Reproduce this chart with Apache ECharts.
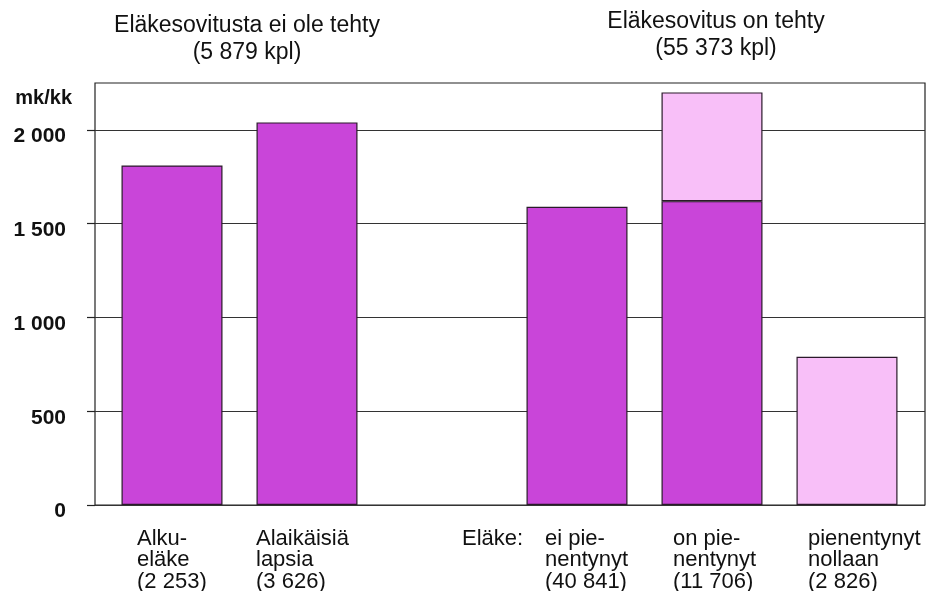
<!DOCTYPE html>
<html>
<head>
<meta charset="utf-8">
<script src="https://cdn.jsdelivr.net/npm/echarts@6/dist/echarts.min.js"></script>
<style>
html,body{margin:0;padding:0;background:#fff;}
#c{width:929px;height:591px;}
</style>
</head>
<body>
<div id="c"></div>
<script>
// ---- data ----
var categories = ['Alku-\neläke\n(2 253)', 'Alaikäisiä\nlapsia\n(3 626)', '', 'ei pie-\nnentynyt\n(40 841)', 'on pie-\nnentynyt\n(11 706)', 'pienentynyt\nnollaan\n(2 826)'];
var groupPrefix = ['', '', '', 'Eläke:', '', ''];
var darkValues = [1810, 2040, '-', 1590, 1620, '-'];   // mk/kk, pension not reduced part
var lightValues = ['-', '-', '-', '-', 580, 790];      // mk/kk, reduced part
var yTicks = [0, 500, 1000, 1500, 2000];
var yMax = 2250;
var yUnit = 'mk/kk';
var titles = [
  'Eläkesovitusta ei ole tehty\n(5 879 kpl)',
  'Eläkesovitus on tehty\n(55 373 kpl)'
];

// ---- chart ----
var FONT = "'Liberation Sans', Arial, sans-serif";
function fmt(v) { return String(v).replace(/\B(?=(\d{3})+(?!\d))/g, ' '); }
var spacer = [77, 45, 0, 83, 69, 69];
var rich = { t: { width: 147, align: 'left', fontSize: 22, lineHeight: 21.5, color: '#111', fontFamily: FONT } };
spacer.forEach(function (w, i) {
  rich['s' + i] = { width: w, align: 'left', fontSize: 22, lineHeight: 21.5, color: '#111', fontFamily: FONT };
});

var chart = echarts.init(document.getElementById('c'), null, { renderer: 'canvas' });
chart.setOption({
  backgroundColor: '#ffffff',
  animation: false,
  title: [
    { text: titles[0], left: 247, top: 12, padding: 0, textAlign: 'center',
      textStyle: { fontFamily: FONT, fontSize: 23, fontWeight: 'normal', color: '#111', lineHeight: 27 } },
    { text: titles[1], left: 716, top: 8, padding: 0, textAlign: 'center',
      textStyle: { fontFamily: FONT, fontSize: 23, fontWeight: 'normal', color: '#111', lineHeight: 27 } }
  ],
  grid: [
    { left: 95, right: 4, top: 83, bottom: 86, show: true, borderColor: '#222', borderWidth: 1.2, backgroundColor: 'transparent', outerBoundsMode: 'none', containLabel: false },
    { left: 104.5, right: 14.5, top: 83, bottom: 86, outerBoundsMode: 'none', containLabel: false }
  ],
  xAxis: [
    { gridIndex: 0, type: 'value', min: 0, max: 1, show: false },
    { gridIndex: 1, type: 'category', data: categories,
      axisLine: { show: false }, axisTick: { show: false }, splitLine: { show: false },
      axisLabel: {
        interval: 0, margin: 23, align: 'center', rich: rich,
        formatter: function (v, i) {
          var lines = v.split('\n');
          return lines.map(function (l, k) {
            var pre = (k === 0 && groupPrefix[i]) ? groupPrefix[i] : ' ';
            return '{s' + i + '|' + pre + '}{t|' + l + '}';
          }).join('\n');
        }
      }
    }
  ],
  yAxis: [
    { gridIndex: 0, type: 'value', min: 0, max: yMax, interval: 500,
      name: yUnit, nameLocation: 'end', nameGap: -15,
      nameTextStyle: { fontFamily: FONT, fontSize: 20, fontWeight: 'bold', color: '#111', align: 'right', verticalAlign: 'middle', padding: [0, 23, 0, 0] },
      axisLine: { show: false },
      axisTick: { show: true, inside: false, length: 8, customValues: yTicks, lineStyle: { color: '#222', width: 1.2 } },
      axisLabel: { customValues: yTicks, margin: 29, fontFamily: FONT, fontSize: 21, fontWeight: 'bold', color: '#111',
        verticalAlign: 'top', lineHeight: 13, formatter: function (v) { return fmt(v); } },
      splitLine: { show: true, lineStyle: { color: '#333', width: 1.2 } }
    },
    { gridIndex: 1, type: 'value', min: 0, max: yMax, show: false }
  ],
  series: [
    { type: 'bar', xAxisIndex: 1, yAxisIndex: 1, stack: 'a', data: darkValues, barWidth: 101,
      itemStyle: { color: '#c945d9', borderColor: '#2a1a2a', borderWidth: 1.2 } },
    { type: 'bar', xAxisIndex: 1, yAxisIndex: 1, stack: 'a', data: lightValues, barWidth: 101,
      itemStyle: { color: '#f8bff8', borderColor: '#2a1a2a', borderWidth: 1.2 } }
  ]
});
</script>
</body>
</html>
